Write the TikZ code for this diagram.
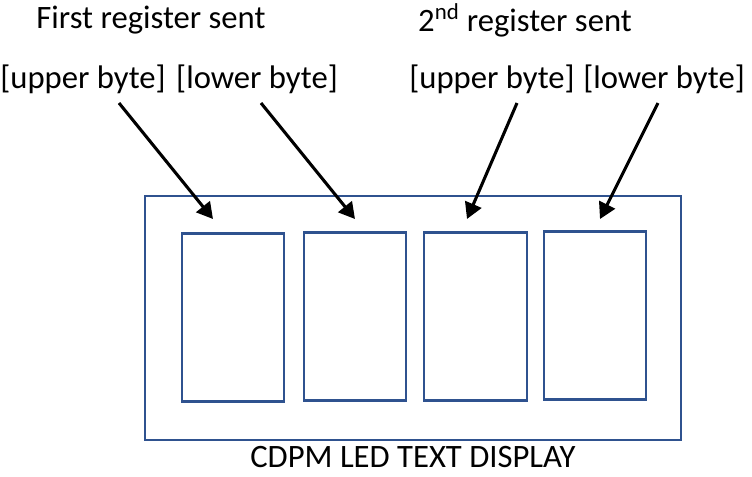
\documentclass[tikz,border=0pt]{standalone}
\usepackage{fontspec}
\setmainfont{Carlito}
\usetikzlibrary{positioning,arrows.meta}
\definecolor{ledblue}{RGB}{47,82,143}

\begin{document}
\begin{tikzpicture}[x=0.75pt,y=-0.75pt]
	\tikzstyle{digit}=[rectangle, draw=ledblue, line width=1.6pt, minimum width=77pt, minimum height=126pt, inner sep=0pt]
	\tikzstyle{frame}=[draw=ledblue, line width=1.7pt]
	\tikzstyle{lbl}=[font=\fontsize{24.5}{28}\selectfont, inner sep=0pt]
	\tikzstyle{connect}=[-{Triangle[length=12pt,width=13pt]}, line width=2.3pt, black]
	\useasboundingbox (0,0) rectangle (752,476);

	  \draw[frame] (145,196) rectangle (681,440);
	  \node[digit] (d1) at (233,317.5) {};
	  \node[digit] (d2) at (355,316.5) {};
	  \node[digit] (d3) at (475.5,316.5) {};
	  \node[digit] (d4) at (595,315.5) {};

	  \node[lbl] (first) at (151,20) {First register sent};
	  \node[lbl] (second) at (525,20) {2\textsuperscript{nd} register sent};
	  \node[lbl] (up1) at (83,79) {[upper byte]};
	  \node[lbl] (lo1) at (257,79) {[lower byte]};
	  \node[lbl] (up2) at (492,79) {[upper byte]};
	  \node[lbl] (lo2) at (664,79) {[lower byte]};
	  \node[lbl] (title) at (413,457) {CDPM LED TEXT DISPLAY};

	  \coordinate (s1) at (119,103); \coordinate (e1) at (213,219);
	  \coordinate (s2) at (261,103); \coordinate (e2) at (355,219);
	  \coordinate (s3) at (517,103); \coordinate (e3) at (467,219);
	  \coordinate (s4) at (658,103); \coordinate (e4) at (600,219);
	  \path (s1) edge [connect] (e1)
			(s2) edge [connect] (e2)
			(s3) edge [connect] (e3)
			(s4) edge [connect] (e4);
	\end{tikzpicture}
\end{document}
